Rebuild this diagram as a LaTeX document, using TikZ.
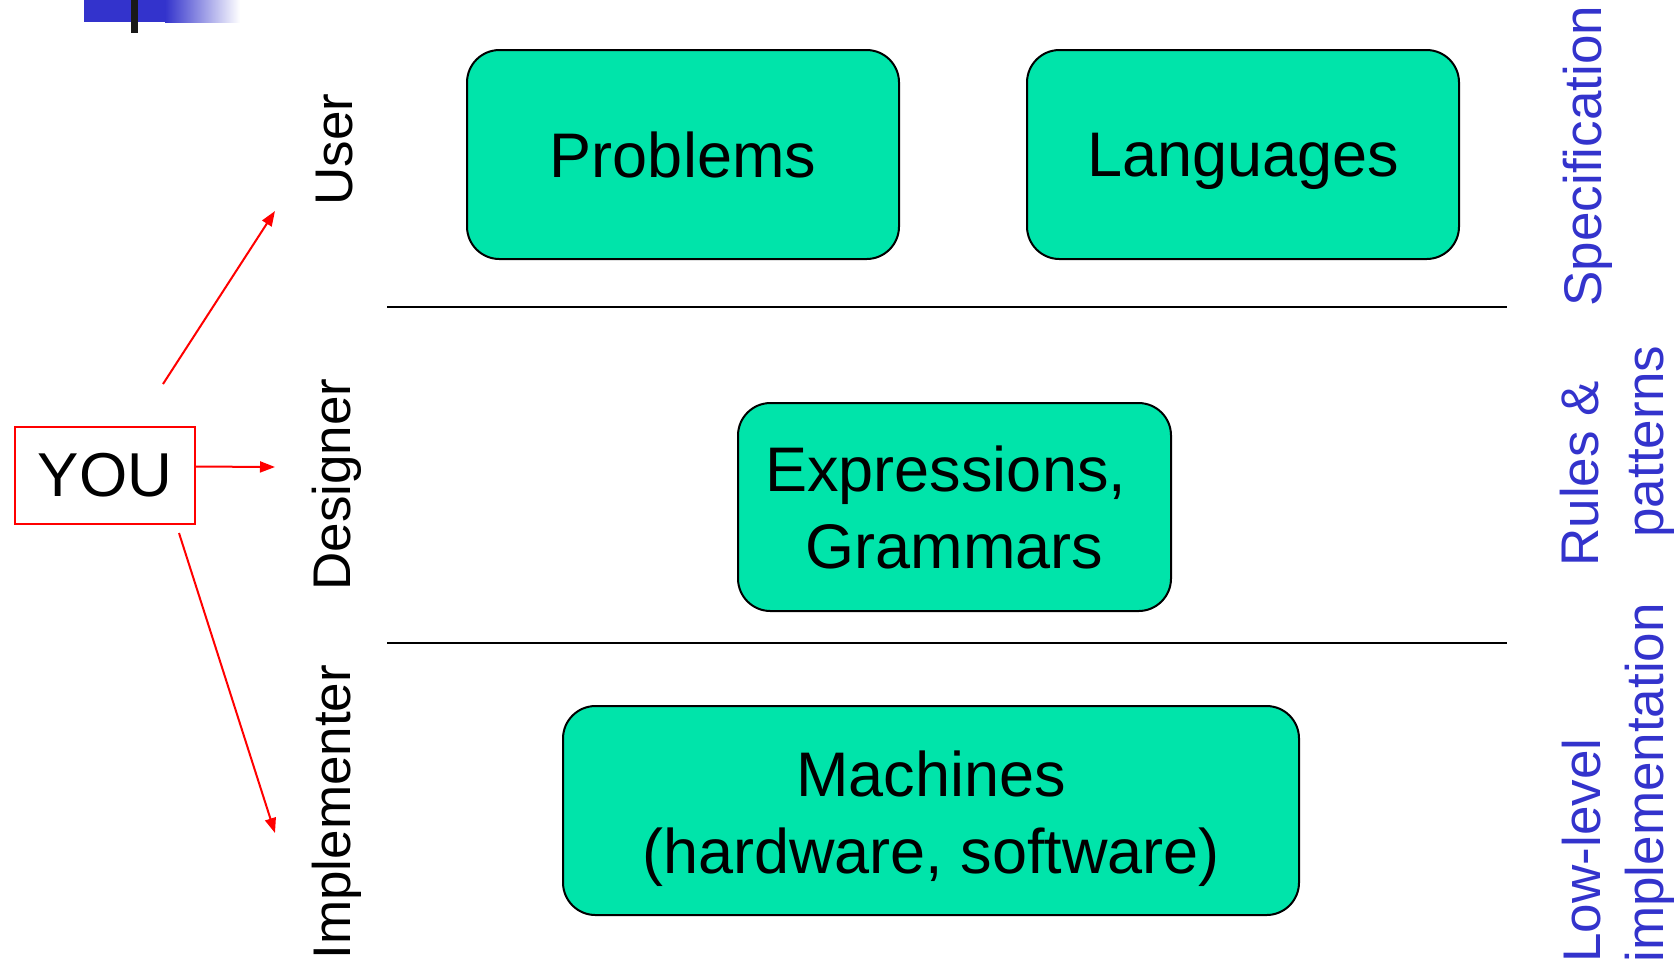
\documentclass[tikz,border=0pt]{standalone}
\usepackage{fontspec}
\setmainfont{Liberation Sans}
\usepackage{tikz}
\usetikzlibrary{shapes,arrows,positioning,calc,arrows.meta}
\definecolor{boxgreen}{RGB}{0,228,170}
\definecolor{slideblue}{RGB}{51,51,204}

\begin{document}
\begin{tikzpicture}[x=0.4pt, y=-0.4pt,
    level/.style={draw=black, line width=0.8pt, fill=boxgreen, rounded corners=13pt, align=center,
                  minimum height=83.6pt, font=\fontsize{25.2}{30.8}\selectfont},
    role/.style={rotate=90, anchor=base west, inner sep=0pt, font=\fontsize{21.2}{25}\selectfont},
    side/.style={role, text=slideblue},
    youarrow/.style={red, line width=0.8pt, -{Triangle[length=6pt, width=4.4pt]}}]
    \useasboundingbox (0,0) rectangle (1678,963);

    % Title bar
    \fill [slideblue] (84,0) rectangle (166,22);
    \shade [left color=slideblue, right color=white] (165,0) rectangle (240,22);
    \fill [black!90] (131,0) rectangle (138,33);

    % Levels
    \node [level, minimum width=172.8pt] (problems) at (683,154.5) {Problems};
    \node [level, minimum width=172.8pt, text depth=0pt] (languages) at (1243,154.5) {Languages};
    \node [level, minimum width=173.2pt, minimum height=83.2pt] (exprs) at (954.5,507)
        {Expressions,\hspace*{0.278em}\\Grammars};
    \node [level, minimum width=294.4pt] (machines) at (931,810.5)
        {\rule{0pt}{24.4pt}Machines\\(hardware, software)};

    % Separators
    \draw [line width=0.8pt] (387,307) -- (1507,307);
    \draw [line width=0.8pt] (387,643) -- (1507,643);

    % You and your roles
    \node [draw=red, line width=0.8pt, minimum width=72pt, minimum height=38.8pt,
           font=\fontsize{24.8}{30}\selectfont] (you) at (105,475.5) {YOU};
    \coordinate (toUser) at (275,211);
    \coordinate (toDesigner) at (275,467);
    \coordinate (toImpl) at (275,833);
    \draw [youarrow] ([shift={(58,-42)}]you.north) -- (toUser);
    \draw [youarrow] ([shift={(0,-9)}]you.east) -- (toDesigner);
    \draw [youarrow] ([shift={(74,8)}]you.south) -- (toImpl);

    \node [role] (user) at (352,206) {User};
    \node [role] (designer) at (350,591) {Designer};
    \node [role] (implementer) at (350,960) {Implementer};

    % Right side
    \node [side] (spec) at (1601,307) {Specification};
    \node [side] (rules) at (1598,567) {Rules \&};
    \node [side] (patterns) at (1663,538) {patterns};
    \node [side] (lowlevel) at (1600,963) {Low-level};
    \node [side] (implementation) at (1663,963) {implementation};
\end{tikzpicture}
\end{document}
